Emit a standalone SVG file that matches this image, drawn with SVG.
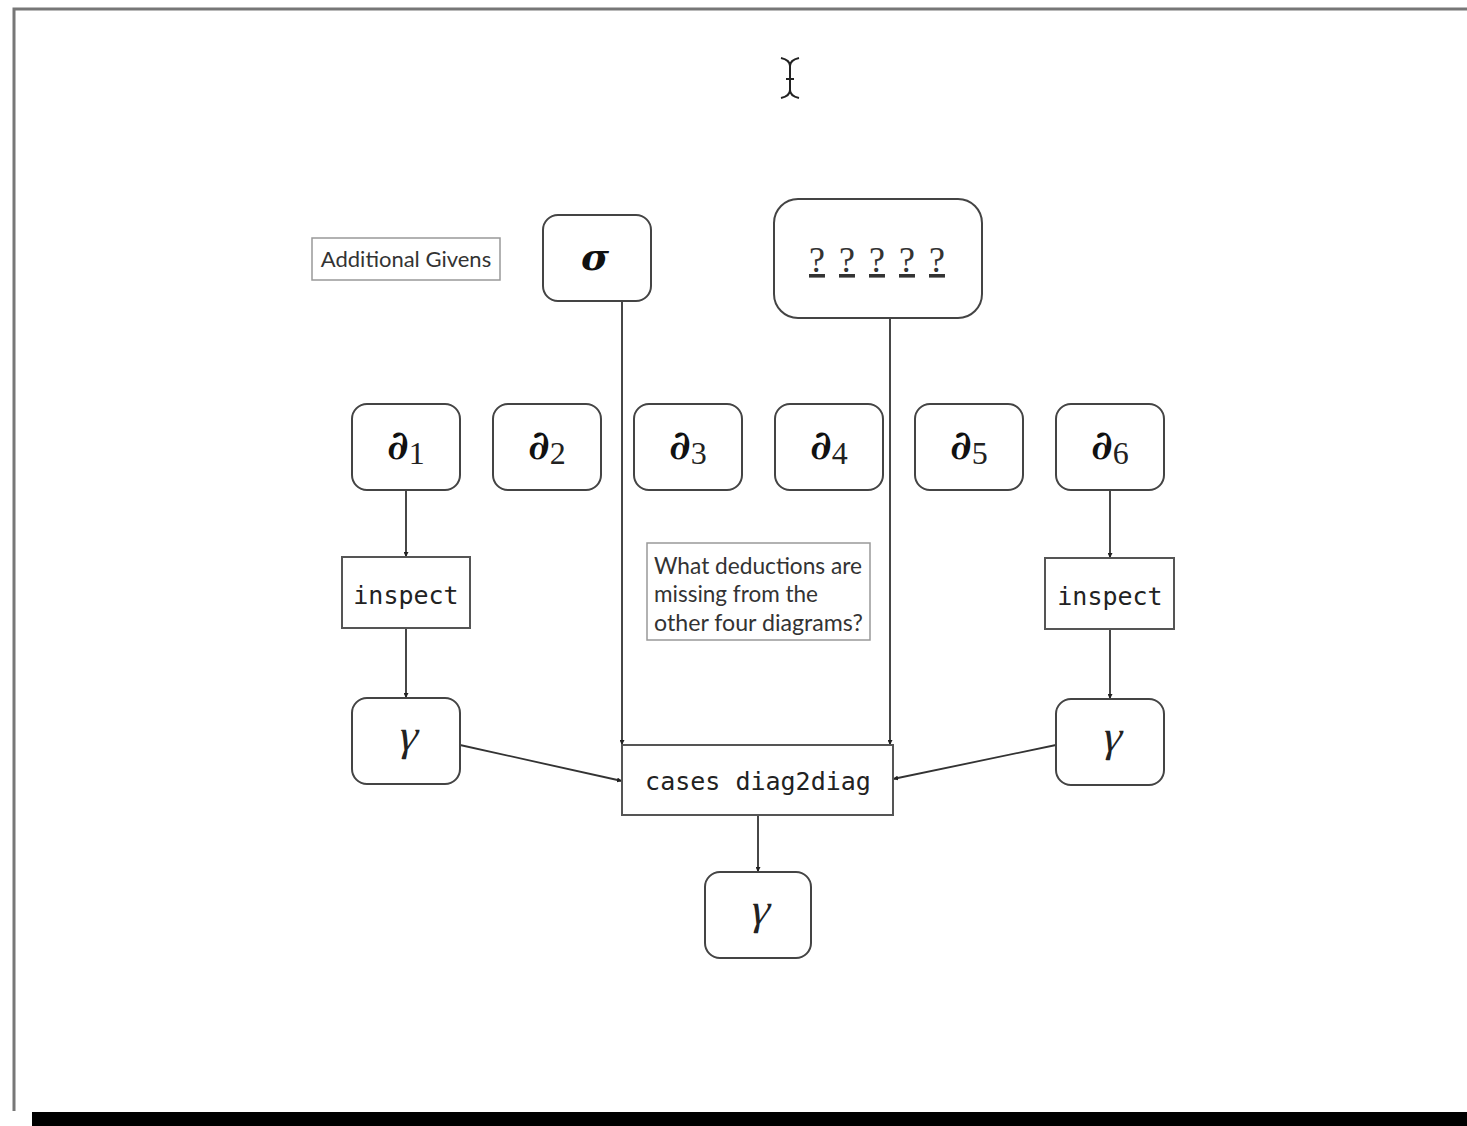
<svg xmlns="http://www.w3.org/2000/svg" width="1467" height="1126" viewBox="0 0 1467 1126">
<style>
.node{fill:#fff;stroke:#444;stroke-width:2}
.box{fill:#fff;stroke:#555;stroke-width:2}
.note{fill:#fff;stroke:#999;stroke-width:1.5}
.edge{stroke:#333;stroke-width:1.8;fill:none;marker-end:url(#ah)}
.d{font-family:"DejaVu Serif",serif;font-weight:bold;font-size:40px;fill:#111}
.sub{font-family:"Liberation Serif",serif;font-size:32px;fill:#222}
.mono{font-family:"DejaVu Sans Mono",monospace;font-size:25px;fill:#222}
.gill{font-family:Lato,"Open Sans",sans-serif;fill:#333}
.g{font-family:"Liberation Serif",serif;font-size:44px;fill:#222}
.q{font-family:"Liberation Serif",serif;font-size:36px;fill:#333;text-decoration:underline}
</style>
<defs>
<marker id="ah" viewBox="0 0 10 10" refX="10" refY="5" markerWidth="5" markerHeight="5" orient="auto" markerUnits="userSpaceOnUse">
<path d="M0,0 L10,5 L0,10 z" fill="#222"/>
</marker>
</defs>
<rect width="1467" height="1126" fill="#fff"/>
<path d="M14,1111 L14,9 L1467,9" fill="none" stroke="#777" stroke-width="3"/>
<rect x="32" y="1112" width="1435" height="14" fill="#000"/>
<g id="cursor" stroke="#222" stroke-width="2" fill="none">
<path d="M781,58 Q790,60 790,66 Q790,60 799,58"/>
<path d="M790,66 L790,92"/>
<path d="M781,98 Q790,96 790,90 Q790,96 799,98"/>
<path d="M786,79 L794,79"/>
</g>
<g id="edges">
<line class="edge" x1="622" y1="301" x2="622" y2="745"/>
<line class="edge" x1="890" y1="318" x2="890" y2="745"/>
<line class="edge" x1="406" y1="490" x2="406" y2="557"/>
<line class="edge" x1="406" y1="628" x2="406" y2="698"/>
<line class="edge" x1="1110" y1="490" x2="1110" y2="558"/>
<line class="edge" x1="1110" y1="629" x2="1110" y2="699"/>
<line class="edge" x1="460" y1="745" x2="622" y2="781"/>
<line class="edge" x1="1056" y1="745" x2="893" y2="779"/>
<line class="edge" x1="758" y1="815" x2="758" y2="872"/>
</g>
<g id="additional-givens">
<rect class="note" x="312" y="238" width="188" height="42"/>
<text class="gill" x="406" y="267" text-anchor="middle" font-size="22">Additional Givens</text>
</g>
<g id="sigma">
<rect class="node" x="543" y="215" width="108" height="86" rx="15"/>
<text x="595" y="270" text-anchor="middle" style="font-family:'DejaVu Serif',serif;font-style:italic;font-weight:bold;font-size:38px;fill:#111">σ</text>
</g>
<g id="unknown">
<rect class="node" x="774" y="199" width="208" height="119" rx="24"/>
<text class="q" x="817" y="272" text-anchor="middle">?</text>
<text class="q" x="847" y="272" text-anchor="middle">?</text>
<text class="q" x="877" y="272" text-anchor="middle">?</text>
<text class="q" x="907" y="272" text-anchor="middle">?</text>
<text class="q" x="937" y="272" text-anchor="middle">?</text>
</g>
<g id="d1"><rect class="node" x="352" y="404" width="108" height="86" rx="15"/><text x="406" y="459" text-anchor="middle"><tspan class="d">∂</tspan><tspan class="sub" dy="5">1</tspan></text></g>
<g id="d2"><rect class="node" x="493" y="404" width="108" height="86" rx="15"/><text x="547" y="459" text-anchor="middle"><tspan class="d">∂</tspan><tspan class="sub" dy="5">2</tspan></text></g>
<g id="d3"><rect class="node" x="634" y="404" width="108" height="86" rx="15"/><text x="688" y="459" text-anchor="middle"><tspan class="d">∂</tspan><tspan class="sub" dy="5">3</tspan></text></g>
<g id="d4"><rect class="node" x="775" y="404" width="108" height="86" rx="15"/><text x="829" y="459" text-anchor="middle"><tspan class="d">∂</tspan><tspan class="sub" dy="5">4</tspan></text></g>
<g id="d5"><rect class="node" x="915" y="404" width="108" height="86" rx="15"/><text x="969" y="459" text-anchor="middle"><tspan class="d">∂</tspan><tspan class="sub" dy="5">5</tspan></text></g>
<g id="d6"><rect class="node" x="1056" y="404" width="108" height="86" rx="15"/><text x="1110" y="459" text-anchor="middle"><tspan class="d">∂</tspan><tspan class="sub" dy="5">6</tspan></text></g>
<g id="inspect-left"><rect class="box" x="342" y="557" width="128" height="71"/><text class="mono" x="406" y="604" text-anchor="middle">inspect</text></g>
<g id="inspect-right"><rect class="box" x="1045" y="558" width="129" height="71"/><text class="mono" x="1110" y="605" text-anchor="middle">inspect</text></g>
<g id="gamma-left"><rect class="node" x="352" y="698" width="108" height="86" rx="15"/><text class="g" transform="translate(406 750) skewX(-14)" text-anchor="middle">γ</text></g>
<g id="gamma-right"><rect class="node" x="1056" y="699" width="108" height="86" rx="15"/><text class="g" transform="translate(1110 751) skewX(-14)" text-anchor="middle">γ</text></g>
<g id="question-note">
<rect class="note" x="647" y="543" width="223" height="97"/>
<text class="gill" font-size="22.5" x="654" y="574" textLength="208" lengthAdjust="spacingAndGlyphs">What deductions are</text>
<text class="gill" font-size="22.5" x="654" y="602">missing from the</text>
<text class="gill" font-size="22.5" x="654" y="631" textLength="209" lengthAdjust="spacingAndGlyphs">other four diagrams?</text>
</g>
<g id="cases"><rect class="box" x="622" y="745" width="271" height="70"/><text class="mono" x="758" y="790" text-anchor="middle">cases diag2diag</text></g>
<g id="gamma-bottom"><rect class="node" x="705" y="872" width="106" height="86" rx="15"/><text class="g" transform="translate(758 924) skewX(-14)" text-anchor="middle">γ</text></g>
</svg>
